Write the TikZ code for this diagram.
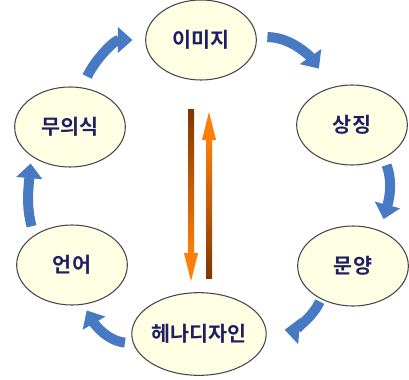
\documentclass[tikz,border=0pt]{standalone}
\usepackage{fontspec}
\newfontfamily\kr{Noto Sans CJK KR Bold}
\usetikzlibrary{arrows.meta,shapes.geometric,calc}
\definecolor{cycblue}{RGB}{72,122,196}
\definecolor{ellfill}{RGB}{255,255,228}
\definecolor{ellline}{RGB}{70,70,80}
\definecolor{txtnavy}{RGB}{30,30,100}
\definecolor{brnarr}{RGB}{125,55,0}
\definecolor{orgarr}{RGB}{255,125,10}

\begin{document}
\begin{tikzpicture}[x=0.75pt,y=0.75pt,
      ell/.style={ellipse,draw=ellline,line width=0.8pt,fill=ellfill,
                  minimum width=83pt,minimum height=60pt,inner sep=0pt,
                  font=\kr\fontsize{15.5}{15.5}\selectfont,text=txtnavy},
      cyc/.style={-{Triangle[length=11pt,width=19pt]},line width=7.5pt,draw=cycblue},
      sarr/.style={-{Triangle[length=24pt,width=9pt]},line width=4.5pt,draw=orgarr}
    ]
    \useasboundingbox[fill=white] (0,0) rectangle (409,379);

    \node[ell] (image)    at (201,339) {이미지};
    \node[ell] (musik)    at (70,252)  {무의식};
    \node[ell] (sangjing) at (352,254) {상징};
    \node[ell] (eoneo)    at (72,114)  {언어};
    \node[ell] (munyang)  at (353,113) {문양};
    \node[ell,minimum width=80pt,minimum height=62pt] (henna) at (199,45) {헤나디자인};

    % cycle arrows
    \draw[cyc,shorten <=9pt,shorten >=9.5pt] (musik.73) to[out=65,in=180] (image.180);
    \draw[cyc,shorten <=8pt,shorten >=17pt] (image.3) to[out=0,in=125] (sangjing.118);
    \draw[cyc,shorten <=5.5pt,shorten >=9pt] (sangjing.-46) to[out=-70,in=75] (munyang.52);
    \draw[cyc,shorten <=2pt,shorten >=14pt] (munyang.226) to[out=-115,in=-5] (henna.5);
    \draw[cyc,shorten <=6pt,shorten >=5pt] (henna.188) to[out=175,in=-60] (eoneo.-74);
    \draw[cyc,shorten <=7pt,shorten >=5.5pt] (eoneo.142) to[out=105,in=-95] (musik.217);

    % centre arrows
    \coordinate (dtop) at (191,270);
    \coordinate (dbot) at (191,94);
    \coordinate (ubot) at (209,101);
    \coordinate (utop) at (209,271);
    \draw[sarr] (dtop) -- (dbot);
    \shade[top color=brnarr,bottom color=orgarr] ($(dtop)+(-3,0)$) rectangle ($(dbot)+(3,32)$);
    \draw[sarr] (ubot) -- (utop);
    \shade[top color=orgarr,bottom color=brnarr] ($(utop)+(-3,-32)$) rectangle ($(ubot)+(3,0)$);
  \end{tikzpicture}
\end{document}
